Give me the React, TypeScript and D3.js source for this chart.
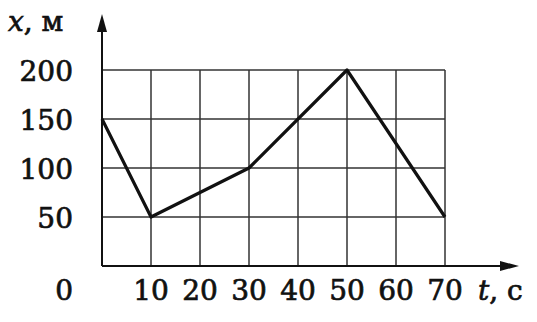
import React from "react";
import * as d3 from "d3";

const times = [0, 10, 30, 50, 70];
const positions = [150, 50, 100, 200, 50];
const xTicks = [10, 20, 30, 40, 50, 60, 70];
const yTicks = [50, 100, 150, 200];

const W = 537;
const H = 322;

export default function App() {
  const x = d3.scaleLinear().domain([0, 70]).range([102, 445]);
  const y = d3.scaleLinear().domain([0, 200]).range([266, 70]);
  const pts: [number, number][] = times.map((t, i) => [t, positions[i]]);
  const line = d3
    .line<[number, number]>()
    .x((d) => x(d[0]))
    .y((d) => y(d[1]));
  const font = "'DejaVu Serif', serif";
  const ink = "#111";
  const txt = { fontFamily: font, fill: ink, stroke: ink, strokeWidth: 0.7 } as const;
  return (
    <svg
      width={W}
      height={H}
      style={{ position: "absolute", left: 0, top: 0, background: "#fff" }}
    >
      {/* grid */}
      {xTicks.map((t) => (
        <line
          key={"gx" + t}
          x1={x(t)}
          x2={x(t)}
          y1={y(0)}
          y2={y(200)}
          stroke="#333"
          strokeWidth={1.5}
        />
      ))}
      {yTicks.map((v) => (
        <line
          key={"gy" + v}
          x1={x(0)}
          x2={x(70)}
          y1={y(v)}
          y2={y(v)}
          stroke="#333"
          strokeWidth={1.5}
        />
      ))}
      {/* axes */}
      <line x1={x(0)} x2={502} y1={y(0)} y2={y(0)} stroke={ink} strokeWidth={2} />
      <polygon points={`500,${y(0) - 5} 519,${y(0)} 500,${y(0) + 5}`} fill={ink} />
      <line x1={x(0)} x2={x(0)} y1={y(0)} y2={30} stroke={ink} strokeWidth={2} />
      <polygon points={`${x(0) - 5},32 ${x(0)},14 ${x(0) + 5},32`} fill={ink} />
      {/* data line */}
      <path d={line(pts) || ""} fill="none" stroke={ink} strokeWidth={3.2} strokeLinejoin="round" />
      {/* y labels */}
      {yTicks.map((v) => (
        <text key={"ly" + v} x={73} y={y(v) + 11} textAnchor="end" fontSize={28} {...txt}>
          {v}
        </text>
      ))}
      <text x={73} y={300} textAnchor="end" fontSize={28} {...txt}>
        0
      </text>
      {/* x labels */}
      {xTicks.map((t) => (
        <text key={"lx" + t} x={x(t)} y={300} textAnchor="middle" fontSize={28} {...txt}>
          {t}
        </text>
      ))}
      {/* axis titles */}
      <text x={8} y={31} fontSize={28} {...txt}>
        <tspan fontStyle="italic">x</tspan>
        <tspan>, м</tspan>
      </text>
      <text x={478} y={300} fontSize={28} {...txt}>
        <tspan fontStyle="italic">t</tspan>
        <tspan>, с</tspan>
      </text>
    </svg>
  );
}
